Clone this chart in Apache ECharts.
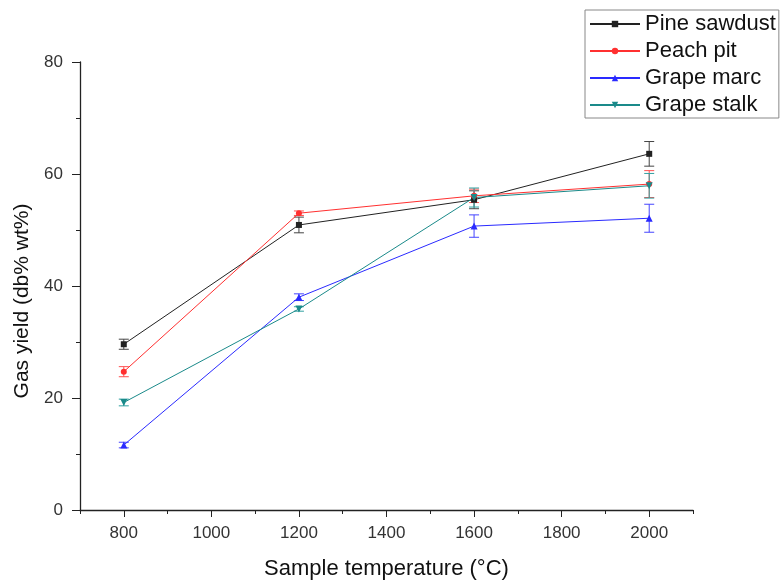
<!DOCTYPE html>
<html>
<head>
<meta charset="utf-8">
<script src="https://cdn.jsdelivr.net/npm/echarts@6/dist/echarts.min.js"></script>
<style>html,body{margin:0;padding:0;background:#fff}#c{width:784px;height:585px}</style>
</head>
<body>
<div id="c"></div>
<script>
const temps = [800, 1200, 1600, 2000];
const pineSawdust = [29.6, 50.9, 55.4, 63.6];
const pineErr = [0.9, 1.4, 1.6, 2.2];
const peachPit = [24.7, 53.0, 56.1, 58.2];
const peachErr = [0.9, 0.4, 1.2, 2.4];
const grapeMarc = [11.6, 38.0, 50.7, 52.1];
const marcErr = [0.5, 0.6, 2.0, 2.5];
const grapeStalk = [19.2, 35.9, 55.8, 57.9];
const stalkErr = [0.6, 0.4, 1.7, 2.2];
const seriesNames = ['Pine sawdust', 'Peach pit', 'Grape marc', 'Grape stalk'];
const xLabelValues = [800, 1000, 1200, 1400, 1600, 1800, 2000];
const xMinorValues = [700, 900, 1100, 1300, 1500, 1700, 1900, 2100];

const FONT = "'Liberation Sans', Arial, sans-serif";
const chart = echarts.init(document.getElementById('c'), null, {renderer: 'canvas'});

function pairs(vals) { return temps.map((t, i) => [t, vals[i]]); }
function errData(vals, errs) { return temps.map((t, i) => [t, vals[i] - errs[i], vals[i] + errs[i]]); }

function errSeries(name, vals, errs, color) {
  return {
    name: name + ' err',
    type: 'custom',
    xAxisIndex: 0, yAxisIndex: 0,
    data: errData(vals, errs),
    z: 3,
    silent: true,
    renderItem: function (params, api) {
      const x = api.value(0);
      const lo = api.coord([x, api.value(1)]);
      const hi = api.coord([x, api.value(2)]);
      const hw = 5;
      const st = {stroke: color, lineWidth: 1, fill: null};
      return {
        type: 'group',
        children: [
          {type: 'line', shape: {x1: lo[0], y1: lo[1], x2: hi[0], y2: hi[1]}, style: st},
          {type: 'line', shape: {x1: lo[0] - hw, y1: lo[1], x2: lo[0] + hw, y2: lo[1]}, style: st},
          {type: 'line', shape: {x1: hi[0] - hw, y1: hi[1], x2: hi[0] + hw, y2: hi[1]}, style: st}
        ]
      };
    }
  };
}

function lineSeries(name, vals, color, symbol, size, rotate) {
  return {
    name: name,
    type: 'line',
    data: pairs(vals),
    symbol: symbol,
    symbolSize: size,
    symbolRotate: rotate || 0,
    showAllSymbol: true,
    z: 4,
    lineStyle: {color: color, width: 1},
    itemStyle: {color: color, borderColor: color, borderWidth: 0},
    emphasis: {disabled: true}
  };
}

const colors = ['#222222', '#ff3030', '#2a2aff', '#1a8a8a'];

const option = {
  animation: false,
  backgroundColor: '#ffffff',
  grid: {left: 80, right: 91, top: 62, bottom: 74, containLabel: false},
  legend: {
    orient: 'vertical',
    left: 585, top: 10,
    padding: [3, 3, 2, 4],
    itemGap: 5,
    itemWidth: 50,
    itemHeight: 8,
    borderColor: '#888',
    borderWidth: 1,
    data: seriesNames,
    textStyle: {fontFamily: FONT, fontSize: 22, color: '#111'}
  },
  xAxis: [{
    type: 'value', min: 700, max: 2100,
    axisLine: {show: true, onZero: false, lineStyle: {color: '#222', width: 1.3}},
    axisTick: {show: true, inside: false, length: 7, customValues: xLabelValues, lineStyle: {color: '#222'}},
    axisLabel: {show: true, customValues: xLabelValues, margin: 15, fontFamily: FONT, fontSize: 17, color: '#333',
      formatter: function (v) { return String(v); }},
    splitLine: {show: false},
    name: 'Sample temperature (°C)',
    nameLocation: 'middle', nameGap: 48,
    nameTextStyle: {fontFamily: FONT, fontSize: 22, color: '#111'}
  }, {
    type: 'value', min: 700, max: 2100, position: 'bottom', gridIndex: 0,
    axisLine: {show: false},
    axisTick: {show: true, inside: false, length: 4, customValues: xMinorValues, lineStyle: {color: '#222'}},
    axisLabel: {show: false},
    splitLine: {show: false}
  }],
  yAxis: {
    type: 'value', min: 0, max: 80, interval: 20,
    axisLine: {show: true, onZero: false, lineStyle: {color: '#222', width: 1.3}},
    axisTick: {show: true, inside: false, length: 8, lineStyle: {color: '#222'}},
    minorTick: {show: true, splitNumber: 2, length: 4, lineStyle: {color: '#222'}},
    axisLabel: {margin: 17, fontFamily: FONT, fontSize: 17, color: '#333'},
    splitLine: {show: false},
    name: 'Gas yield (db% wt%)',
    nameLocation: 'middle', nameGap: 45,
    nameTextStyle: {fontFamily: FONT, fontSize: 21, color: '#111', padding: [0, 30, 0, 0]}
  },
  series: [
    errSeries(seriesNames[0], pineSawdust, pineErr, '#444444'),
    errSeries(seriesNames[1], peachPit, peachErr, '#ff5050'),
    errSeries(seriesNames[2], grapeMarc, marcErr, '#4545ff'),
    errSeries(seriesNames[3], grapeStalk, stalkErr, '#30a0a0'),
    lineSeries(seriesNames[0], pineSawdust, colors[0], 'rect', 6),
    lineSeries(seriesNames[1], peachPit, colors[1], 'circle', 6),
    lineSeries(seriesNames[2], grapeMarc, colors[2], 'triangle', 7),
    lineSeries(seriesNames[3], grapeStalk, colors[3], 'triangle', 7, 180)
  ]
};
chart.setOption(option);
</script>
</body>
</html>
